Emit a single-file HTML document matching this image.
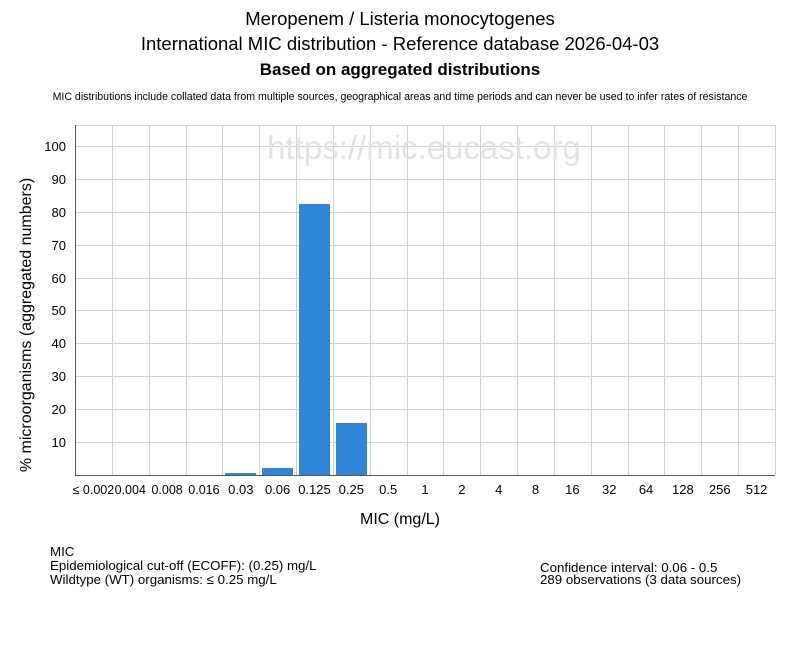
<!DOCTYPE html>
<html><head><meta charset="utf-8"><style>
body{margin:0;background:#fff;width:800px;height:650px;overflow:hidden;font-family:"Liberation Sans",sans-serif;}
</style></head><body>
<svg width="800" height="650" xmlns="http://www.w3.org/2000/svg" font-family="Liberation Sans, sans-serif">
<rect width="800" height="650" fill="#fff"/>
<text x="400" y="25" text-anchor="middle" font-size="18.5">Meropenem / Listeria monocytogenes</text>
<text x="400" y="50" text-anchor="middle" font-size="18.5">International MIC distribution - Reference database 2026-04-03</text>
<text x="400" y="75" text-anchor="middle" font-size="17" font-weight="bold">Based on aggregated distributions</text>
<text x="400" y="100" text-anchor="middle" font-size="10.6">MIC distributions include collated data from multiple sources, geographical areas and time periods and can never be used to infer rates of resistance</text>
<g stroke="#d0d0d0" stroke-width="1">
<line x1="75" y1="125.5" x2="775" y2="125.5"/>
<line x1="75" y1="146.5" x2="775" y2="146.5"/>
<line x1="75" y1="179.5" x2="775" y2="179.5"/>
<line x1="75" y1="212.5" x2="775" y2="212.5"/>
<line x1="75" y1="245.5" x2="775" y2="245.5"/>
<line x1="75" y1="278.5" x2="775" y2="278.5"/>
<line x1="75" y1="310.5" x2="775" y2="310.5"/>
<line x1="75" y1="343.5" x2="775" y2="343.5"/>
<line x1="75" y1="376.5" x2="775" y2="376.5"/>
<line x1="75" y1="409.5" x2="775" y2="409.5"/>
<line x1="75" y1="442.5" x2="775" y2="442.5"/>
</g>
<g stroke="#d0d0d0" stroke-width="1" id="vg"></g>
<text x="424" y="159" text-anchor="middle" font-size="33" fill="#e4e4e4">https://mic.eucast.org</text>
<g fill="#2f86d9">
<rect x="225" y="473" width="31" height="2"/>
<rect x="262" y="468" width="31" height="7"/>
<rect x="299" y="204" width="31" height="271"/>
<rect x="336" y="423" width="31" height="52"/>
</g>
<line x1="75.5" y1="125" x2="75.5" y2="475" stroke="#555"/>
<line x1="75" y1="475.5" x2="775" y2="475.5" stroke="#555"/>
<g font-size="13" text-anchor="end">
<text x="66" y="151">100</text><text x="66" y="184">90</text><text x="66" y="217">80</text>
<text x="66" y="250">70</text><text x="66" y="283">60</text><text x="66" y="315">50</text>
<text x="66" y="348">40</text><text x="66" y="381">30</text><text x="66" y="414">20</text>
<text x="66" y="447">10</text>
</g>
<g font-size="13" text-anchor="middle" id="xl"></g>
<text transform="translate(31,325) rotate(-90)" text-anchor="middle" font-size="16">% microorganisms (aggregated numbers)</text>
<text x="400" y="524" text-anchor="middle" font-size="16">MIC (mg/L)</text>
<g font-size="13.3">
<text x="50" y="556">MIC</text>
<text x="50" y="570">Epidemiological cut-off (ECOFF): (0.25) mg/L</text>
<text x="50" y="584">Wildtype (WT) organisms: ≤ 0.25 mg/L</text>
<text x="540" y="572">Confidence interval: 0.06 - 0.5</text>
<text x="540" y="584">289 observations (3 data sources)</text>
</g>
</svg>
<script>
var labs=["≤ 0.002","0.004","0.008","0.016","0.03","0.06","0.125","0.25","0.5","1","2","4","8","16","32","64","128","256","512"];
var w=700/19,ns="http://www.w3.org/2000/svg",vg=document.getElementById("vg"),xl=document.getElementById("xl");
for(var i=0;i<19;i++){var x=Math.round(75+(i+1)*w)+0.5;var l=document.createElementNS(ns,"line");
l.setAttribute("x1",x);l.setAttribute("x2",x);l.setAttribute("y1",125);l.setAttribute("y2",475);vg.appendChild(l);
var t=document.createElementNS(ns,"text");t.setAttribute("x",75+(i+0.5)*w);t.setAttribute("y",494);if(i<4)t.setAttribute("font-size","12.5");t.textContent=labs[i];xl.appendChild(t);}
</script>
</body></html>
